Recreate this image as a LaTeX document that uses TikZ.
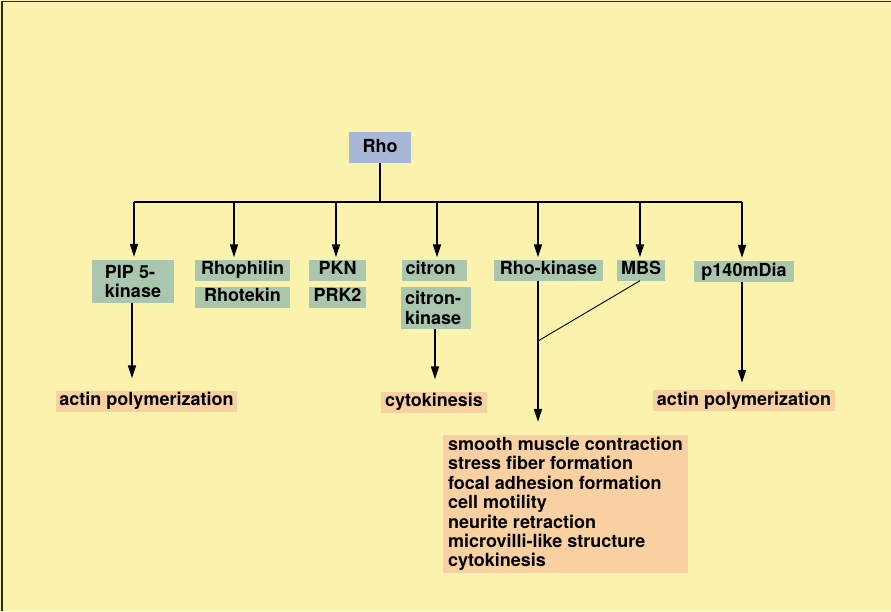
\documentclass[tikz,border=0pt]{standalone}
\usepackage{fontspec}
\setmainfont{TeX Gyre Heros}
\usepackage{xcolor}
\usetikzlibrary{arrows.meta,positioning}
\definecolor{bgyellow}{RGB}{251,243,173}
\definecolor{rhoblue}{RGB}{168,183,214}
\definecolor{effgreen}{RGB}{170,198,174}
\definecolor{outorange}{RGB}{248,208,162}

\begin{document}
\begin{tikzpicture}[x=1pt, y=-1pt,
    base/.style={font=\fontsize{18}{19.4}\selectfont\bfseries, inner xsep=3pt, inner ysep=2pt},
    oneline/.style={base, text height=13pt, text depth=4pt},
    rhobox/.style={oneline, fill=rhoblue, minimum width=62pt, minimum height=31pt},
    effector/.style={oneline, fill=effgreen, align=left},
    twoline/.style={base, fill=effgreen, align=left},
    outcome/.style={oneline, fill=outorange, align=left},
    arrow/.style={-{Triangle[length=13pt, width=8pt]}, line width=1.6pt},
    link/.style={line width=1.6pt}
]

%% Background and frame
\useasboundingbox (0,0) rectangle (891,611);
\fill[bgyellow] (0,0) rectangle (891,611);
\draw[line width=1.3pt, black!85] (2,611) -- (2,1.5) -- (891,1.5);

%% Rho
\node[rhobox] (rho) at (380,147.5) {Rho};
\coordinate (busL) at (134,202);
\coordinate (busR) at (742,202);

%% Effectors
\node[twoline, minimum width=82pt, minimum height=43pt] (pip) at (133,281.5) {PIP 5-\\kinase};
\node[effector, minimum width=95pt] (phil) at (242.5,270) {Rhophilin};
\node[effector, minimum width=95pt, below=6pt of phil] (tek) {Rhotekin};
\node[effector, minimum width=57pt] (pkn) at (337.5,270) {PKN};
\node[effector, minimum width=57pt, below=6pt of pkn] (prk) {PRK2};
\node[effector, text width=58pt, inner xsep=3.5pt] (cit) at (434.5,270) {citron};
\node[twoline, text width=62pt, inner xsep=4pt, minimum height=42pt] (citk) at (436,308) {citron-\\kinase};
\node[effector, minimum width=109pt] (rok) at (548.5,270) {Rho-kinase};
\node[effector, minimum width=48pt] (mbs) at (641,270) {MBS};
\node[effector, minimum width=100pt] (dia) at (744,271.5) {p140mDia};

%% Outcomes
\node[outcome, minimum width=181pt, minimum height=20pt] (actL) at (146.5,401) {actin polymerization};
\node[outcome, minimum width=106pt, minimum height=20pt] (cyto) at (434,402) {cytokinesis};
\node[outcome, minimum width=182pt, minimum height=20pt] (actR) at (744,400.5) {actin polymerization};
\node[base, fill=outorange, align=left, inner xsep=4.5pt, minimum width=245pt, minimum height=138pt] (effects) at (565.5,504)
  {smooth muscle contraction\\stress fiber formation\\focal adhesion formation\\cell motility\\neurite retraction\\microvilli-like structure\\cytokinesis};
\coordinate (mix) at (538,341);

%% Arrows from Rho
\draw[link] (rho.south) -- (rho.south |- busL);
\draw[link] (busL) -- (busR);
\draw[arrow, shorten >=3pt] (busL) -- (busL |- pip.north);
\draw[arrow, shorten >=2pt] ([xshift=-8.5pt]phil.north |- busL) -- ([xshift=-8.5pt]phil.north);
\draw[arrow, shorten >=2pt] ([xshift=-1.5pt]pkn.north |- busL) -- ([xshift=-1.5pt]pkn.north);
\draw[arrow, shorten >=2pt] ([xshift=2.5pt]cit.north |- busL) -- ([xshift=2.5pt]cit.north);
\draw[arrow, shorten >=2pt] ([xshift=-10.5pt]rok.north |- busL) -- ([xshift=-10.5pt]rok.north);
\draw[arrow, shorten >=2pt] ([xshift=-1pt]mbs.north |- busL) -- ([xshift=-1pt]mbs.north);
\draw[arrow, shorten >=3pt] (busR) -- (busR |- dia.north);

%% Arrows to outcomes
\draw[arrow, shorten >=12pt] ([xshift=-1pt]pip.south) -- ([xshift=-1pt]pip.south |- actL.north);
\draw[arrow, shorten >=12pt] ([xshift=-1pt]citk.south) -- ([xshift=-1pt]citk.south |- cyto.north);
\draw[arrow, shorten >=13pt] ([xshift=-10.5pt]rok.south) -- (mix) -- (mix |- effects.north);
\draw[line width=0.9pt] ([xshift=-1pt]mbs.south) -- (mix);
\draw[arrow, shorten >=7pt] ([xshift=-2pt]dia.south) -- ([xshift=-2pt]dia.south |- actR.north);

\end{tikzpicture}
\end{document}
